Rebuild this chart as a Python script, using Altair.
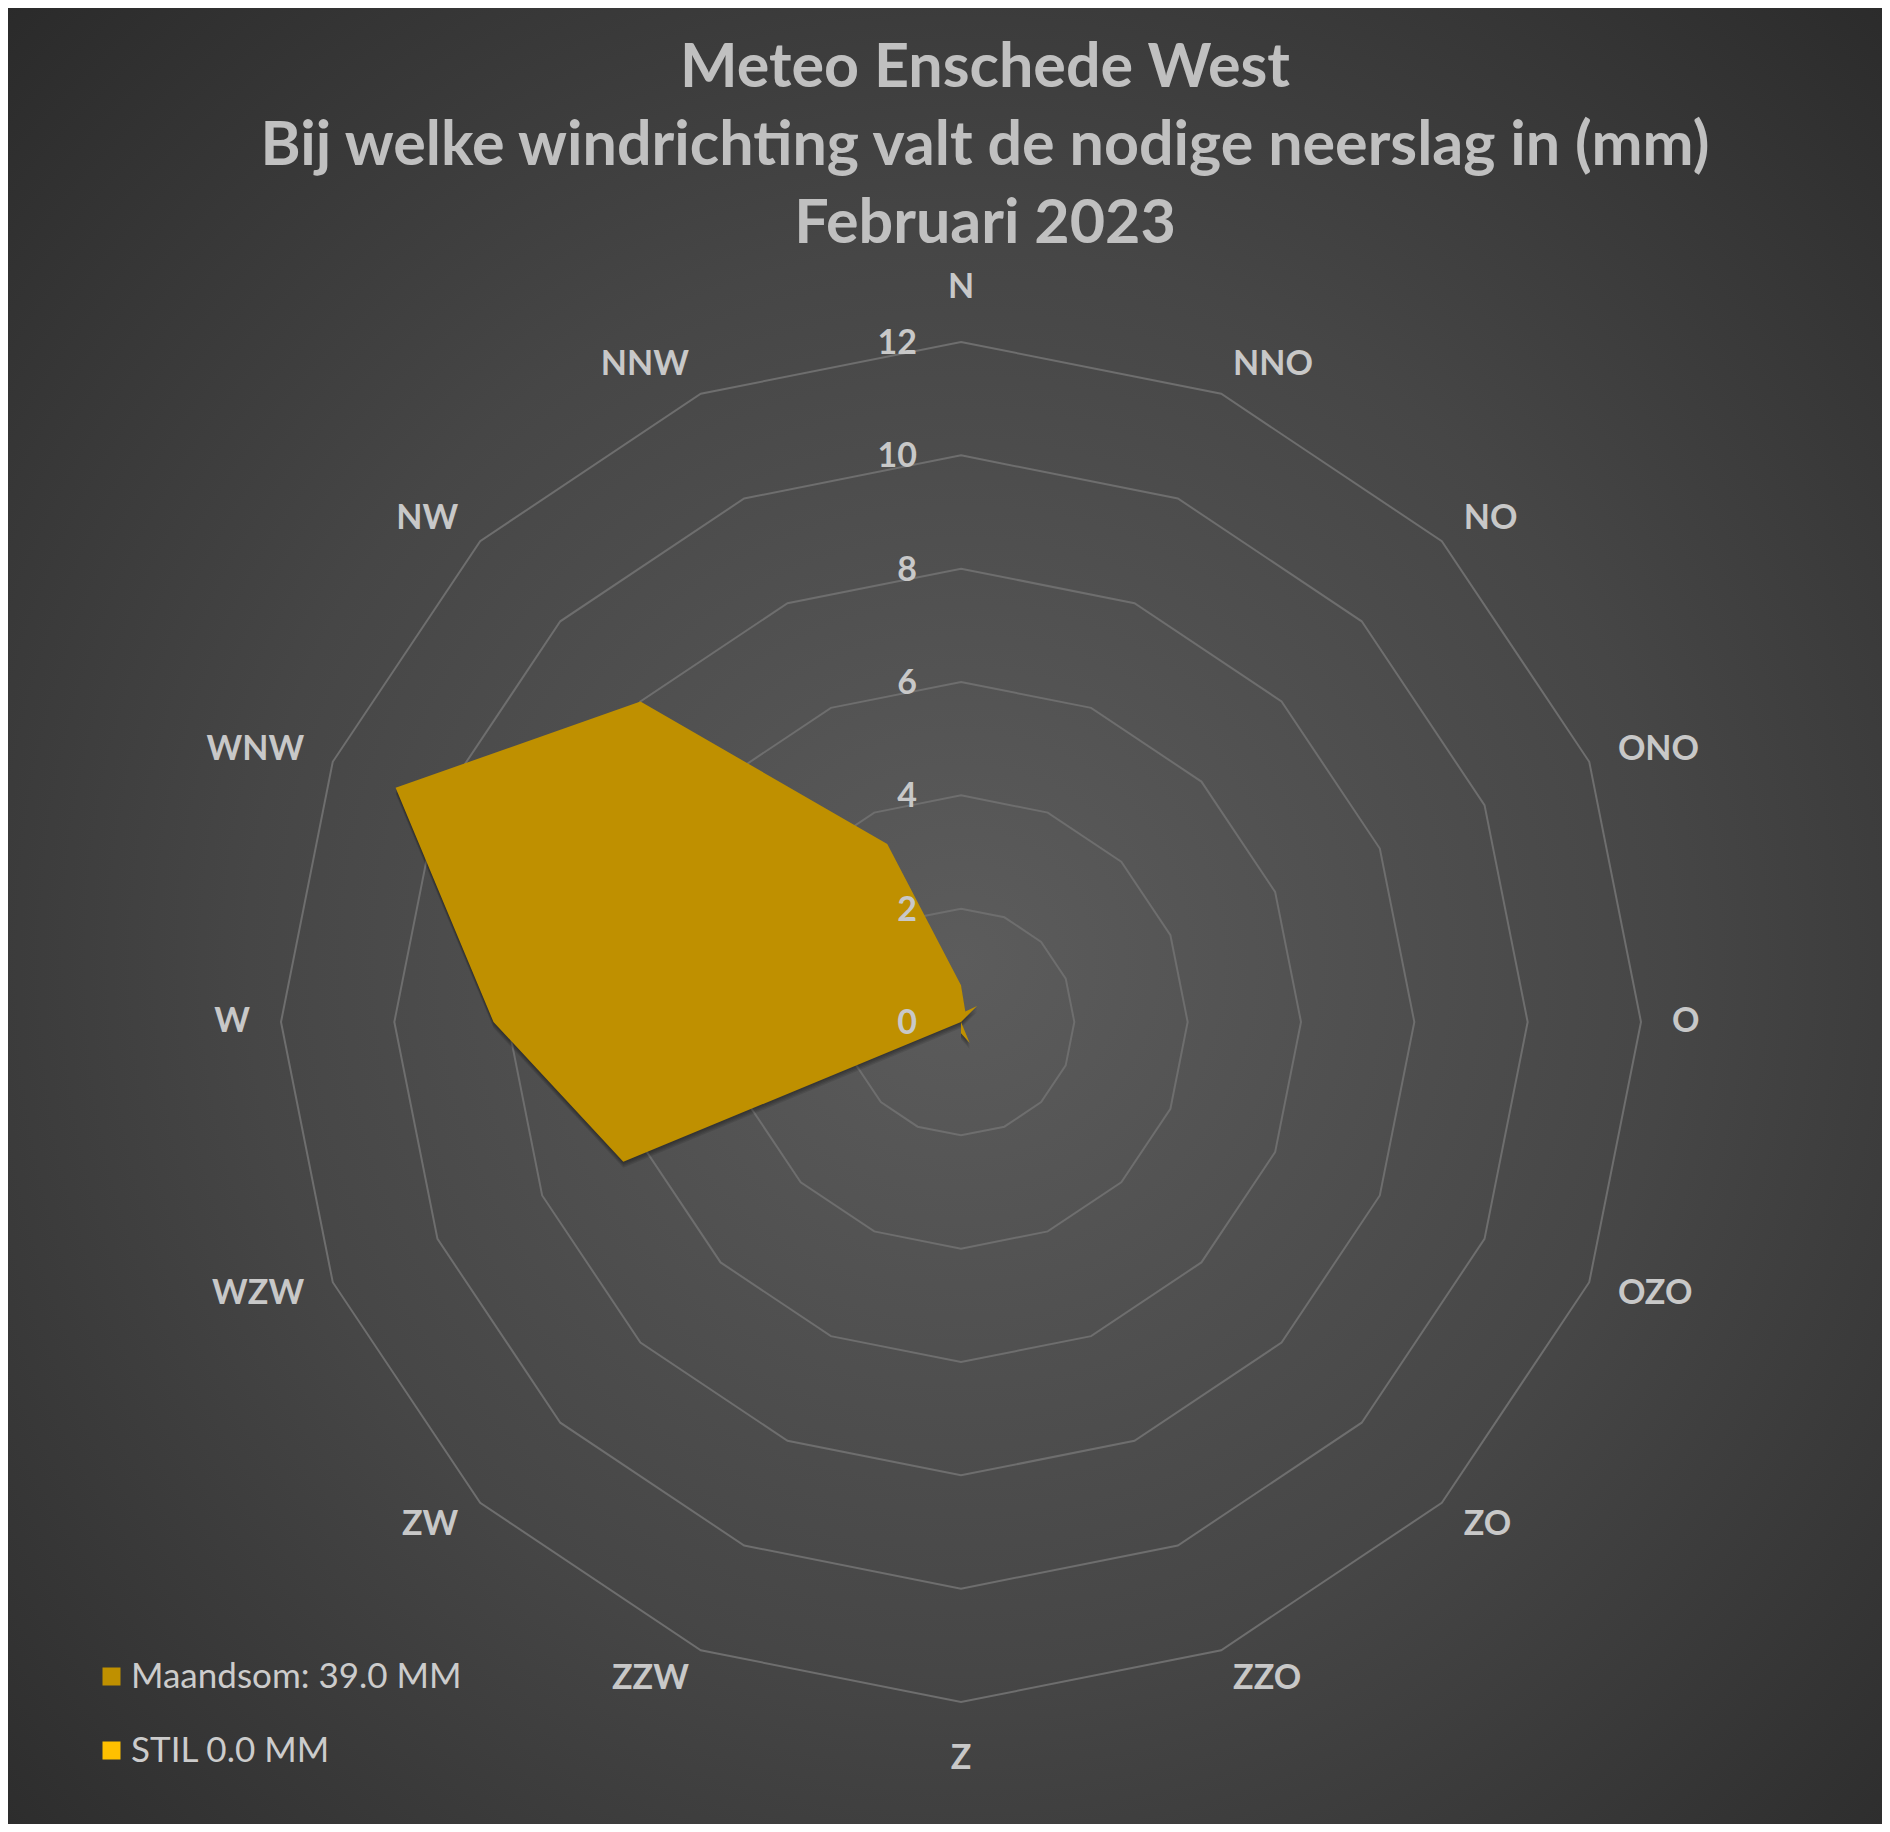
import altair as alt
import pandas as pd

# ---------------- data ----------------
directions = ["N", "NNO", "NO", "ONO", "O", "OZO", "ZO", "ZZO",
              "Z", "ZZW", "ZW", "WZW", "W", "WNW", "NW", "NNW"]
maandsom = [0.65, 0.2, 0.4, 0, 0, 0, 0, 0.4,
            0.2, 0, 0, 6.45, 8.25, 10.8, 8.0, 3.4]
stil = [0] * 16
series_names = ["Maandsom: 39.0 MM", "STIL 0.0 MM"]
series_colors = ["#bf9000", "#ffc000"]
ring_levels = [2, 4, 6, 8, 10, 12]
tick_values = [0, 2, 4, 6, 8, 10, 12]
tick_labels = ["0", "2", "4", "6", "8", "10", "12"]
title_lines = ["Meteo Enschede West",
               "Bij welke windrichting valt de nodige neerslag in (mm)",
               "Februari 2023"]
shadow_steps = [1.5, 3.0, 4.5, 6.0]   # px offsets of the soft drop shadow

# ---------------- layout ----------------
W, H = 1874, 1816
CX, CY = 953, 1014            # radar centre in chart pixels
PX_PER_MM = 680 / 12
x_dom = [-CX / PX_PER_MM, (W - CX) / PX_PER_MM]
y_dom = [-(H - CY) / PX_PER_MM, CY / PX_PER_MM]
LABEL_R = 711 / PX_PER_MM
LABEL_R_N = 724 / PX_PER_MM
LABEL_R_S = 720 / PX_PER_MM

series_df = pd.DataFrame({
    "series": [series_names[0]] * 16 + [series_names[1]] * 16,
    "dir": directions * 2,
    "idx": list(range(16)) * 2,
    "value": maandsom + stil,
})
ring_df = pd.DataFrame([(lv, i) for lv in ring_levels for i in range(16)],
                       columns=["level", "idx"])
tick_df = pd.DataFrame({"level": tick_values, "label": tick_labels})
dir_df = pd.DataFrame({"dir": directions, "idx": list(range(16))})
bg_df = pd.DataFrame({"a": [0]})
shadow_df = pd.DataFrame([(s, i, v) for s in shadow_steps
                          for i, v in enumerate(maandsom)],
                         columns=["step", "idx", "value"])

xs = alt.Scale(domain=x_dom, nice=False, zero=False)
ys = alt.Scale(domain=y_dom, nice=False, zero=False)
X = alt.X("x:Q", scale=xs, axis=None)
Y = alt.Y("y:Q", scale=ys, axis=None)
ang = "(datum.idx * PI / 8)"

LABEL_FONT = "Lato"
LABEL_COLOR = "#c8c8c8"

bg = alt.Chart(bg_df).mark_rect(
    fill=alt.Gradient(
        gradient="radial",
        stops=[alt.GradientStop(color="#5c5c5c", offset=0),
               alt.GradientStop(color="#464646", offset=0.5),
               alt.GradientStop(color="#272727", offset=1)],
        x1=0.5085, y1=0.524, r1=0, x2=0.5085, y2=0.524, r2=0.76),
    strokeWidth=0,
).encode(x=alt.value(0), x2=alt.value(W), y=alt.value(0), y2=alt.value(H))

rings = alt.Chart(ring_df).transform_calculate(
    x=f"datum.level * sin({ang})", y=f"datum.level * cos({ang})"
).mark_line(interpolate="linear-closed", stroke="#6e6e6e", strokeWidth=2).encode(
    x=X, y=Y, detail="level:N", order="idx:Q")

shadow = alt.Chart(shadow_df).transform_calculate(
    x=f"datum.value * sin({ang})",
    y=f"datum.value * cos({ang}) - datum.step / {PX_PER_MM}"
).mark_line(interpolate="linear-closed", filled=True, color="#000000", opacity=0.1).encode(
    x=X, y=Y, detail="step:N", order="idx:Q")

poly = alt.Chart(series_df).transform_calculate(
    x=f"datum.value * sin({ang})", y=f"datum.value * cos({ang})"
).mark_line(interpolate="linear-closed", filled=True, opacity=1).encode(
    x=X, y=Y, order="idx:Q",
    color=alt.Color("series:N",
                    scale=alt.Scale(domain=series_names, range=series_colors),
                    legend=alt.Legend(title=None, orient="none", legendX=86, legendY=1651,
                                      symbolType="square", symbolSize=324,
                                      symbolStrokeWidth=0, symbolOpacity=1,
                                      labelFont=LABEL_FONT, labelFontSize=35,
                                      labelColor="#cccccc", labelOffset=2,
                                      rowPadding=38, padding=0, labelLimit=0,
                                      direction="vertical")))

ticks = alt.Chart(tick_df).transform_calculate(
    x="0", y="datum.level"
).mark_text(align="right", baseline="middle", dx=-44, dy=2, font=LABEL_FONT,
            fontWeight="bold", fontSize=34, color=LABEL_COLOR).encode(
    x=X, y=Y, text="label:N")

dir_base = alt.Chart(dir_df).transform_calculate(
    s=f"sin({ang})", c=f"cos({ang})"
)

txt = dict(font=LABEL_FONT, fontWeight="bold", fontSize=34, color=LABEL_COLOR)
east = dir_base.transform_filter("datum.s > 0.1").transform_calculate(
    x=f"{LABEL_R} * datum.s", y=f"{LABEL_R} * datum.c"
).mark_text(align="left", baseline="middle", **txt).encode(x=X, y=Y, text="dir:N")
west = dir_base.transform_filter("datum.s < -0.1").transform_calculate(
    x=f"{LABEL_R} * datum.s", y=f"{LABEL_R} * datum.c"
).mark_text(align="right", baseline="middle", **txt).encode(x=X, y=Y, text="dir:N")
north = dir_base.transform_filter("abs(datum.s) <= 0.1 && datum.c > 0").transform_calculate(
    x="0", y=f"{LABEL_R_N} * datum.c"
).mark_text(align="center", baseline="alphabetic", **txt).encode(x=X, y=Y, text="dir:N")
south = dir_base.transform_filter("abs(datum.s) <= 0.1 && datum.c < 0").transform_calculate(
    x="0", y=f"{LABEL_R_S} * datum.c"
).mark_text(align="center", baseline="top", **txt).encode(x=X, y=Y, text="dir:N")

title = alt.Title(text=title_lines, font=LABEL_FONT, fontSize=61, fontWeight="bold",
                  color="#c0c0c0", lineHeight=78, anchor="middle", orient="top",
                  baseline="top", offset=-248, dx=40)

chart = alt.layer(bg, rings, shadow, poly, ticks, east, west, north, south).properties(
    width=W, height=H, title=title,
    autosize=alt.AutoSizeParams(type="none"), padding=0
).configure(background="#2a2a2a").configure_view(strokeWidth=0)

chart.save("out.html", embed_options={"renderer": "svg", "actions": False})
